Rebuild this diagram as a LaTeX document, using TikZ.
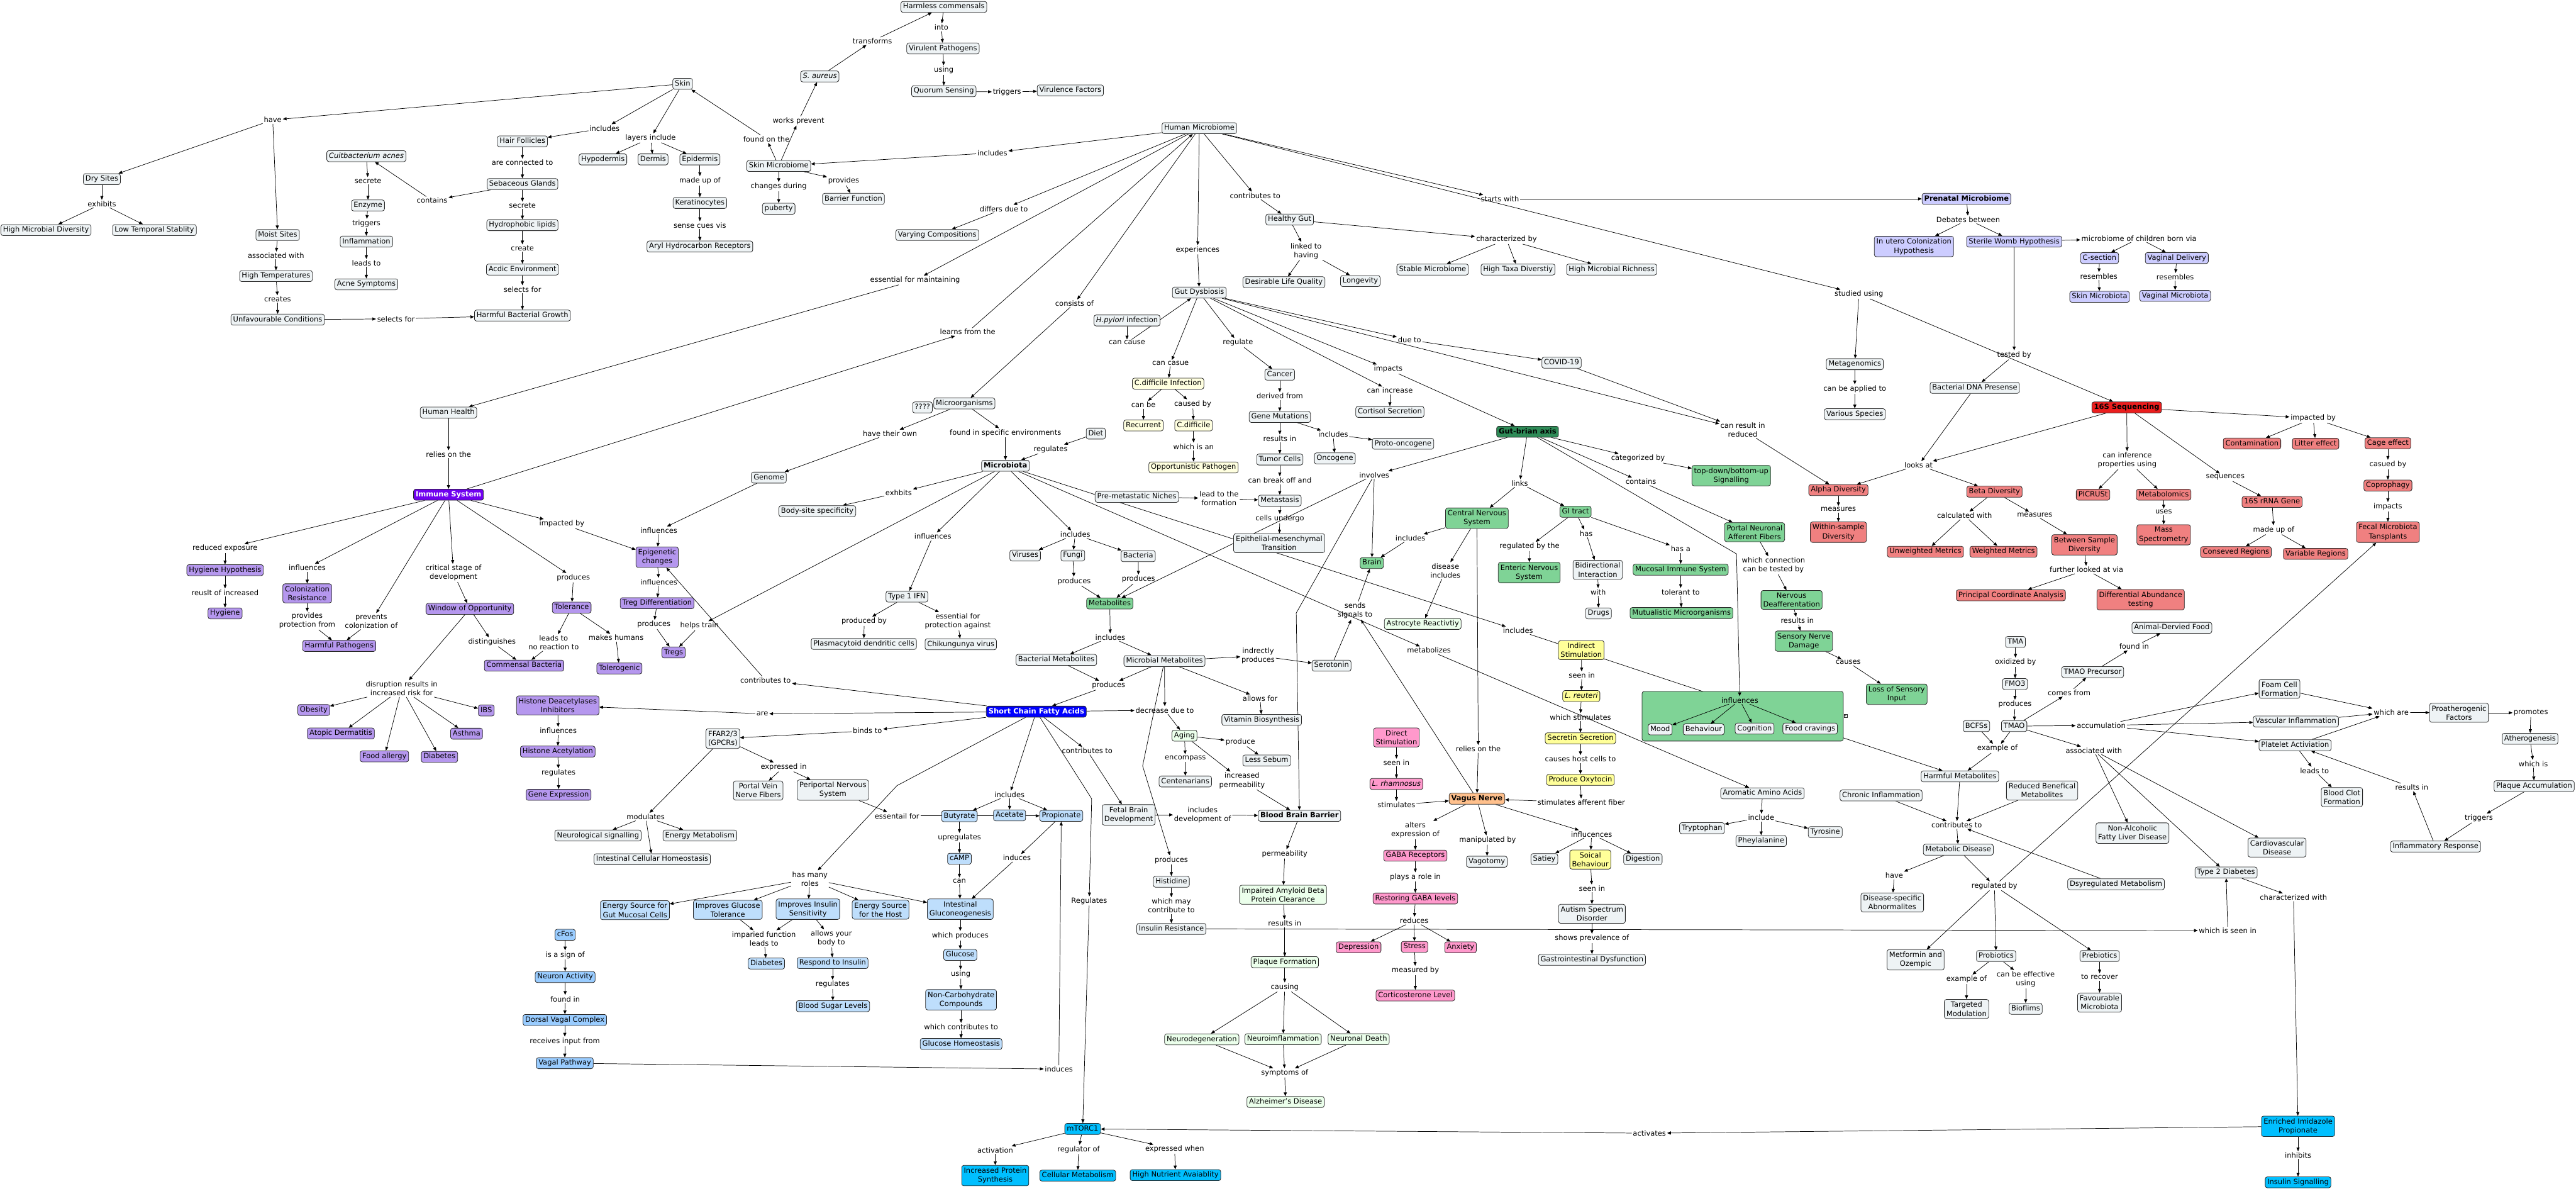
\documentclass[tikz,border=0pt]{standalone}
\usepackage{fontspec}
\setmainfont{DejaVu Sans}
\usetikzlibrary{arrows.meta}
\definecolor{cdef}{RGB}{238,243,245}
\definecolor{cpur}{RGB}{181,151,238}
\definecolor{cimm}{RGB}{112,0,240}
\definecolor{cprn}{RGB}{204,204,255}
\definecolor{cgrn}{RGB}{127,211,150}
\definecolor{cdkg}{RGB}{46,139,87}
\definecolor{clgr}{RGB}{235,255,235}
\definecolor{csal}{RGB}{240,128,128}
\definecolor{cred}{RGB}{235,30,30}
\definecolor{cscfa}{RGB}{0,0,255}
\definecolor{clb}{RGB}{190,222,252}
\definecolor{cfb}{RGB}{153,204,255}
\definecolor{csky}{RGB}{0,191,255}
\definecolor{cyel}{RGB}{255,255,153}
\definecolor{cly}{RGB}{255,255,224}
\definecolor{cpink}{RGB}{255,153,204}
\definecolor{corg}{RGB}{255,192,140}
\newcommand\fs{\fontsize{4.4}{5.4}\selectfont}
\pgfdeclarelayer{back}\pgfdeclarelayer{bg}\pgfdeclarelayer{mid}
\pgfsetlayers{back,bg,mid,main}
\tikzset{
  base/.style={draw=black!85, line width=0.3pt, rounded corners=1.3pt, inner xsep=1.3pt, font=\fs, align=center},
  c/.style={base, fill=cdef, inner ysep=1.1pt, text height=3.4pt, text depth=1.1pt},
  m/.style={base, fill=cdef, inner ysep=1.4pt},
  l/.style={inner sep=0.5pt, font=\fs, align=center},
  ar/.style={-{Triangle[length=2.3pt,width=1.9pt]}, line width=0.28pt},
}
\begin{document}
\begin{tikzpicture}[x=1pt,y=-1pt]
\begin{pgfonlayer}{back}\fill[white] (0,0) rectangle (1568,724.5);\end{pgfonlayer}
\useasboundingbox (0,0) rectangle (1568,724.5);
% ---------------- Skin ----------------
\node[c] (skin) at (415.5,51) {Skin};
\node[l] (have) at (166,73) {have};
\node[c] (dry) at (62,109) {Dry Sites};
\node[l] (exh) at (62,124) {exhibits};
\node[c] (hmd) at (28,140) {High Microbial Diversity};
\node[c] (lts) at (94,140) {Low Temporal Stablity};
\node[c] (moist) at (169,143) {Moist Sites};
\node[l] (assoc) at (168,155.5) {associated with};
\node[c] (htemp) at (168,168) {High Temperatures};
\node[l] (creates) at (169,182) {creates};
\node[c] (unfav) at (169,194.5) {Unfavourable Conditions};
\node[l] (sel1) at (241,194) {selects for};
\node[c] (hbg) at (318,192) {Harmful Bacterial Growth};
\node[c] (cacnes) at (223,95) {\itshape Cuitbacterium acnes};
\node[l] (secr1) at (224,110) {secrete};
\node[c] (enzyme) at (224,125) {Enzyme};
\node[l] (trig1) at (223,136) {triggers};
\node[c] (infl) at (223,147) {Inflammation};
\node[l] (leads1) at (223,160) {leads to};
\node[c] (acne) at (223,173) {Acne Symptoms};
\node[l] (contains1) at (263,122) {contains};
\node[c] (hair) at (318,86) {Hair Follicles};
\node[l] (conn) at (318,99) {are connected to};
\node[c] (seb) at (318,112) {Sebaceous Glands};
\node[l] (secr2) at (318,125) {secrete};
\node[c] (hlip) at (318,137) {Hydrophobic lipids};
\node[l] (create) at (318,151) {create};
\node[c] (acid) at (318,164) {Acdic Environment};
\node[l] (sel2) at (318,176) {selects for};
\node[l] (incl1) at (368,78) {includes};
\node[c] (hypo) at (367,97) {Hypodermis};
\node[l] (layers) at (396,84) {layers include};
\node[c] (dermis) at (397.5,97) {Dermis};
\node[c] (epi) at (426,97) {Epidermis};
\node[l] (madeup1) at (426,110) {made up of};
\node[c] (kera) at (426,123.5) {Keratinocytes};
\node[l] (sense) at (426,137) {sense cues vis};
\node[c] (aryl) at (426,150) {Aryl Hydrocarbon Receptors};
\node[l] (foundon) at (466.5,84.5) {found on the};
\node[l] (works) at (486,73.6) {works prevent};
\node[c] (skinmb) at (474,101) {Skin Microbiome};
\node[l] (changes) at (474,113.6) {changes during};
\node[c] (puberty) at (474,127) {puberty};
\node[l] (provides1) at (513.5,110) {provides};
\node[c] (barrier) at (519.5,121) {Barrier Function};
\node[c] (saureus) at (499,46.5) {\itshape S. aureus};
\node[l] (transforms) at (531,25) {transforms};
\node[c] (harmless) at (574.5,4.2) {Harmless commensals};
\node[l] (into) at (573,16.6) {into};
\node[c] (virulent) at (574,29.5) {Virulent Pathogens};
\node[l] (using1) at (574.5,42.6) {using};
\node[c] (quorum) at (574.5,55.5) {Quorum Sensing};
\node[l] (trig2) at (613,56) {triggers};
\node[c] (virf) at (651.5,55) {Virulence Factors};
% ---------------- Human microbiome ----------------
\node[c] (hm) at (730,78) {Human Microbiome};
\node[l] (incl2) at (604,93) {includes};
\node[l] (differs) at (611,127) {differs due to};
\node[c] (varying) at (570.5,143) {Varying Compositions};
\node[l] (essmaint) at (557,170.5) {essential for maintaining};
\node[l] (learns) at (589,202) {learns from the};
\node[l] (consists) at (654,184.6) {consists of};
\node[l] (exper) at (729,152) {experiences};
\node[l] (contrib1) at (764,119) {contributes to};
\node[c] (healthy) at (785,133.6) {Healthy Gut};
\node[l] (linked) at (795,152.7) {linked to\\having};
\node[c] (desirable) at (781.5,171.7) {Desirable Life Quality};
\node[c] (longevity) at (828,171) {Longevity};
\node[l] (charby) at (917,145.7) {characterized by};
\node[c] (stable) at (872,164) {Stable Microbiome};
\node[c] (htaxa) at (924,164) {High Taxa Diverstiy};
\node[c] (hmr) at (981,164) {High Microbial Richness};
\node[l] (startsw) at (913,121) {starts with};
\node[c,fill=cprn,font=\fs\bfseries] (prenatal) at (1197,121) {Prenatal Microbiome};
\node[l] (debates) at (1198,133.6) {Debates between};
\node[m,fill=cprn] (inutero) at (1165,150) {In utero Colonization\\Hypothesis};
\node[c,fill=cprn] (sterile) at (1226,147) {Sterile Womb Hypothesis};
\node[l] (mcbv) at (1302,145) {microbiome of children born via};
\node[c,fill=cprn] (csec) at (1278,157) {C-section};
\node[c,fill=cprn] (vagdel) at (1325,157) {Vaginal Delivery};
\node[l] (res1) at (1277.5,168) {resembles};
\node[l] (res2) at (1324,168.5) {resembles};
\node[c,fill=cprn] (skinmbt) at (1278,180.6) {Skin Microbiota};
\node[c,fill=cprn] (vagmbt) at (1324,180) {Vaginal Microbiota};
\node[l] (studied) at (1131.5,179) {studied using};
\node[c] (metag) at (1129,221.6) {Metagenomics};
\node[l] (applied) at (1129,236.7) {can be applied to};
\node[c] (various) at (1129,252) {Various Species};
\node[l] (tested) at (1226,216) {tested by};
\node[c] (bdna) at (1202,236) {Bacterial DNA Presense};
\node[c,fill=cred,font=\fs\bfseries] (s16) at (1294.5,247.9) {16S Sequencing};
% ---------------- Gut dysbiosis ----------------
\node[c] (gd) at (730,178) {Gut Dysbiosis};
\node[c] (hpylori) at (686,195) {{\itshape H.pylori} infection};
\node[l] (cancause1) at (686,208.5) {can cause};
\node[l] (cancasue) at (712.5,221) {can casue};
\node[c,fill=cly] (cdiffinf) at (711,233.4) {C.difficile Infection};
\node[l] (canbe) at (696,246.3) {can be};
\node[l] (causedby) at (726,245.8) {caused by};
\node[c,fill=cly] (recurrent) at (696,258.9) {Recurrent};
\node[c,fill=cly] (cdiff) at (726.5,258.9) {C.difficile};
\node[l] (whichisan) at (726.5,271.7) {which is an};
\node[c,fill=cly] (opp) at (726.5,284.4) {Opportunistic Pathogen};
\node[l] (regulate) at (753.5,208.5) {regulate};
\node[c] (cancer) at (779,228) {Cancer};
\node[l] (derived) at (779,241) {derived from};
\node[c] (genemut) at (779,253.7) {Gene Mutations};
\node[l] (resultsin1) at (779,266.8) {results in};
\node[c] (tumor) at (779,279.6) {Tumor Cells};
\node[l] (breakoff) at (779,292.2) {can break off and};
\node[c] (metastasis) at (779,304.6) {Metastasis};
\node[l] (undergo) at (779,315.6) {cells undergo};
\node[m] (emt) at (778.6,330.5) {Epithelial-mesenchymal\\Transition};
\node[l] (incl3) at (811.5,264.3) {includes};
\node[c] (proto) at (854,270) {Proto-oncogene};
\node[c] (onco) at (812.5,278.9) {Oncogene};
\node[l] (dueto) at (858,206.8) {due to};
\node[c] (covid) at (950.5,220.7) {COVID-19};
\node[l] (impacts1) at (845,224.6) {impacts};
\node[l] (canincr) at (846,237.6) {can increase};
\node[c] (cortisol) at (846,250.6) {Cortisol Secretion};
\node[l] (canresult) at (1060.8,261.5) {can result in\\reduced};
\node[c] (premet) at (692,302.3) {Pre-metastatic Niches};
\node[l] (leadform) at (742,303.3) {lead to the\\formation};
% ---------------- Gut-brain axis ----------------
\node[c,fill=cdkg,font=\fs\bfseries] (gba) at (929.8,262.7) {Gut-brian axis};
\node[l] (involves) at (836.5,289) {involves};
\node[l] (links) at (925,294) {links};
\node[l] (catby) at (997,278.9) {categorized by};
\node[m,fill=cgrn] (topdown) at (1053.8,289.4) {top-down/bottom-up\\Signalling};
\node[l] (contains2) at (998.8,293) {contains};
\node[m,fill=cgrn] (cns) at (899,315.3) {Central Nervous\\System};
\node[c,fill=cgrn] (gi) at (959,311.4) {GI tract};
\node[l] (incl4) at (858.5,327.4) {includes};
\node[c,fill=cgrn] (brain) at (835,342.6) {Brain};
\node[l] (disincl) at (879.8,347.2) {disease\\includes};
\node[c,fill=clgr] (astro) at (866,379.6) {Astrocyte Reactivtiy};
\node[l] (regby) at (931,332.5) {regulated by the};
\node[m,fill=cgrn] (ens) at (930.8,348.4) {Enteric Nervous\\System};
\node[l] (has) at (965.5,324.6) {has};
\node[m] (bidir) at (972.5,346.7) {Bidirectional\\Interaction};
\node[l] (with) at (972.8,360.2) {with};
\node[c] (drugs) at (973,373.2) {Drugs};
\node[l] (hasa) at (1023,334) {has a};
\node[c,fill=cgrn] (mucosal) at (1023,346.6) {Mucosal Immune System};
\node[l] (tolerant) at (1023,360.2) {tolerant to};
\node[c,fill=cgrn] (mutual) at (1023.5,373) {Mutualistic Microorganisms};
\node[m,fill=cgrn] (portal) at (1068,323.8) {Portal Neuronal\\Afferent Fibers};
\node[l] (whichconn) at (1079.5,344) {which connection\\can be tested by};
\node[m,fill=cgrn] (deaff) at (1090.5,365) {Nervous\\Deafferentation};
\node[l] (resultsin2) at (1094,377.7) {results in};
\node[m,fill=cgrn] (sensory) at (1098,390.1) {Sensory Nerve\\Damage};
\node[l] (causes) at (1125,403) {causes};
\node[m,fill=cgrn] (loss) at (1154.5,422.4) {Loss of Sensory\\Input};
\node[l] (sends) at (824.8,371.5) {sends\\signals to};
\node[c] (serotonin) at (810.5,405) {Serotonin};
\node[l] (metabolizes) at (869.8,395.7) {metabolizes};
\node[l] (incl5) at (924,383.6) {includes};
\node[m,fill=cyel] (indirect) at (962.5,395.6) {Indirect\\Stimulation};
\node[l] (seenin1) at (962.8,410.9) {seen in};
\node[c,fill=cyel] (lreuteri) at (962.5,423.5) {\itshape L. reuteri};
\node[l] (whichstim) at (962,436.3) {which stimulates};
\node[c,fill=cyel] (secretin) at (962,449.2) {Secretin Secretion};
\node[l] (causeshost) at (962,461.9) {causes host cells to};
\node[c,fill=cyel] (oxytocin) at (962,474.5) {Produce Oxytocin};
\begin{pgfonlayer}{mid}
\draw[fill=cgrn, rounded corners=1.3pt, line width=0.3pt, draw=black!85] (999.5,420.7) rectangle (1122,450.9);
\end{pgfonlayer}
\node[draw=black!85, fill=white, line width=0.2pt, inner sep=0.2pt, font=\fontsize{2.6}{3}\selectfont] (collapse) at (1123.3,435.6) {«};
\node[l] (influ1) at (1059,426) {influences};
\node[c] (mood) at (1010.5,443.8) {Mood};
\node[c] (behav) at (1037,443.8) {Behaviour};
\node[c] (cogn) at (1068,443.3) {Cognition};
\node[c] (food) at (1101.8,443.3) {Food cravings};
\node[m,fill=cpink] (direct) at (850,448.7) {Direct\\Stimulation};
\node[l] (seenin2) at (850,464) {seen in};
\node[c,fill=cpink] (lrham) at (850,477) {\itshape L. rhamnosus};
\node[l] (relies2) at (899.8,455.7) {relies on the};
\node[c,fill=corg,font=\fs\bfseries] (vagus) at (899,486) {Vagus Nerve};
\node[c] (aaa) at (1072.8,482.7) {Aromatic Amino Acids};
\node[c] (chronic) at (1145,484) {Chronic Inflammation};
% ---------------- 16S ----------------
\node[c,fill=csal] (alpha) at (1119,298.2) {Alpha Diversity};
\node[l] (measures1) at (1119,309.9) {measures};
\node[m,fill=csal] (within) at (1119,323.8) {Within-sample\\Diversity};
\node[c,fill=csal] (unweighted) at (1172,335.7) {Unweighted Metrics};
\node[l] (looksat) at (1167.8,283) {looks at};
\node[c,fill=csal] (beta) at (1214,299.2) {Beta Diversity};
\node[l] (calcwith) at (1195.8,313.7) {calculated with};
\node[l] (measures2) at (1238.5,313.3) {measures};
\node[c,fill=csal] (weighted) at (1219.5,335.7) {Weighted Metrics};
\node[m,fill=csal] (between) at (1268.8,331.5) {Between Sample\\Diversity};
\node[l] (further) at (1270,346.7) {further looked at via};
\node[c,fill=csal] (pcoa) at (1224,362.2) {Principal Coordinate Analysis};
\node[m,fill=csal] (daa) at (1303,364.9) {Differential Abundance\\testing};
\node[l] (caninf) at (1294.8,280) {can inference\\properties using};
\node[c,fill=csal] (picrust) at (1274,301) {PICRUSt};
\node[c,fill=csal] (metabolomics) at (1317,301) {Metabolomics};
\node[l] (uses) at (1317,311.4) {uses};
\node[m,fill=csal] (mass) at (1317,325.4) {Mass\\Spectrometry};
\node[l] (sequences) at (1354.5,290.5) {sequences};
\node[c,fill=csal] (rrna) at (1383,305.4) {16S rRNA Gene};
\node[l] (madeup2) at (1384,322.4) {made up of};
\node[c,fill=csal] (conserved) at (1361,335.9) {Conseved Regions};
\node[c,fill=csal] (variable) at (1409.5,337) {Variable Regions};
\node[l] (impby) at (1408,254.5) {impacted by};
\node[c,fill=csal] (contam) at (1370.8,269.9) {Contamination};
\node[c,fill=csal] (litter) at (1409.5,270) {Litter effect};
\node[c,fill=csal] (cage) at (1453.5,269.7) {Cage effect};
\node[l] (casued) at (1453.5,282.6) {casued by};
\node[c,fill=csal] (copro) at (1453.5,295.4) {Coprophagy};
\node[l] (impacts2) at (1453.5,308.3) {impacts};
\node[m,fill=csal] (fmt) at (1453.5,323.8) {Fecal Microbiota\\Tansplants};
% ---------------- TMAO / metabolic ----------------
\node[c] (animal) at (1322,382) {Animal-Dervied Food};
\node[l] (foundin1) at (1299,393.4) {found in};
\node[c] (tma) at (1226.8,390.6) {TMA};
\node[l] (oxid) at (1226.8,403) {oxidized by};
\node[c] (fmo3) at (1226.5,416.2) {FMO3};
\node[l] (produces5) at (1226.5,428.6) {produces};
\node[c] (tmaoprec) at (1273.8,408.9) {TMAO Precursor};
\node[l] (comesfrom) at (1259.5,421.5) {comes from};
\node[c] (tmao) at (1226,441.8) {TMAO};
\node[c] (bcfss) at (1203,441.8) {BCFSs};
\node[l] (exof1) at (1215.8,455.4) {example of};
\node[c] (harmmet) at (1193,472.4) {Harmful Metabolites};
\node[l] (accum) at (1279,441.4) {accumulation};
\node[l] (assocw) at (1274.5,456.6) {associated with};
\node[m] (foam) at (1387.5,419.1) {Foam Cell\\Formation};
\node[c] (vascinf) at (1397.5,439) {Vascular Inflammation};
\node[c] (platelet) at (1397,453.4) {Platelet Activiation};
\node[l] (whichare) at (1455.5,433.4) {which are};
\node[m] (proath) at (1496.8,433.7) {Proatherogenic\\Factors};
\node[l] (promotes) at (1540.5,433.7) {promotes};
\node[c] (athero) at (1540,449.5) {Atherogenesis};
\node[l] (whichis) at (1542,464.7) {which is};
\node[c] (plaqueacc) at (1542.5,478.3) {Plaque Accumulation};
\node[l] (triggers3) at (1508.8,497.8) {triggers};
\node[c] (inflresp) at (1482.5,515.1) {Inflammatory Response};
\node[l] (leadsto3) at (1408.8,468.9) {leads to};
\node[m] (bloodclot) at (1425.5,485) {Blood Clot\\Formation};
\node[l] (resultsin3) at (1468,479) {results in};
\node[m] (reducedben) at (1243,481) {Reduced Benefical\\Metabolites};
\node[l] (contrib2) at (1191,502) {contributes to};
\node[c] (metdis) at (1192,517) {Metabolic Disease};
\node[l] (have2) at (1153,532.7) {have};
\node[m] (disspec) at (1151.8,549.1) {Disease-specific\\Abnormalites};
\node[l] (regby2) at (1214,539) {regulated by};
\node[m] (nafld) at (1298,506.9) {Non-Alcoholic\\Fatty Liver Disease};
\node[m] (cvd) at (1386,515.7) {Cardiovascular\\Disease};
\node[c] (t2d) at (1355,530.9) {Type 2 Diabetes};
\node[l] (charwith) at (1396,545.9) {characterized with};
\node[l] (whichseen) at (1356,566.2) {which is seen in};
\node[c] (dysreg) at (1288,538) {Dsyregulated Metabolism};
\node[c] (probiotics) at (1215,581.7) {Probiotics};
\node[l] (exof2) at (1197,595.8) {example of};
\node[m] (targeted) at (1197,613.9) {Targeted\\Modulation};
\node[l] (caneff) at (1233,595.8) {can be effective\\using};
\node[c] (bioflims) at (1233,613.8) {Bioflims};
\node[c] (prebiotics) at (1278,581.7) {Prebiotics};
\node[l] (torecover) at (1278,594.5) {to recover};
\node[m] (favourable) at (1278,610) {Favourable\\Microbiota};
\node[m] (metformin) at (1166,584) {Metformin and\\Ozempic};
\node[m,fill=csky] (eip) at (1398.8,685.3) {Enriched Imidazole\\Propionate};
\node[l] (inhibits) at (1398.8,702.9) {inhibits};
\node[c,fill=csky] (insulinsig) at (1398.8,719.4) {Insulin Signalling};
% ---------------- Immune ----------------
\node[c] (hhealth) at (273,251) {Human Health};
\node[l] (relies1) at (273,276.4) {relies on the};
\node[c,fill=cimm,text=white,font=\fs\bfseries] (immune) at (273,301) {Immune System};
\node[l] (redexp) at (137,333.7) {reduced exposure};
\node[c,fill=cpur] (hyghyp) at (137,346.9) {Hygiene Hypothesis};
\node[l] (reuslt) at (137,360.5) {reuslt of increased};
\node[c,fill=cpur] (hygiene) at (137,373.2) {Hygiene};
\node[l] (influ2) at (187,345.5) {influences};
\node[m,fill=cpur] (colres) at (187,361) {Colonization\\Resistance};
\node[l] (protfrom) at (187,377.7) {provides\\protection from};
\node[l] (prevents) at (226,378) {prevents\\colonization of};
\node[c,fill=cpur] (harmpath) at (206.5,393) {Harmful Pathogens};
\node[l] (critical) at (276,348.6) {critical stage of\\development};
\node[c,fill=cpur] (window) at (286,370.5) {Window of Opportunity};
\node[l] (disting) at (299.5,390.6) {distinguishes};
\node[c,fill=cpur] (commensal) at (319,405) {Commensal Bacteria};
\node[l] (produces1) at (349,351.5) {produces};
\node[c,fill=cpur] (tolerance) at (348,369.7) {Tolerance};
\node[l] (leadsno) at (337,391) {leads to\\no reaction to};
\node[l] (makes) at (375,388) {makes humans};
\node[c,fill=cpur] (tolerogenic) at (377,406.7) {Tolerogenic};
\node[l] (impby2) at (342,318.7) {impacted by};
\node[m,fill=cpur] (epig) at (400,339) {Epigenetic\\changes};
\node[l] (influ3) at (401,322.7) {influences};
\node[l] (influ4) at (401,354) {influences};
\node[c,fill=cpur] (tregdiff) at (400,367) {Treg Differentiation};
\node[l] (produces2) at (398,380) {produces};
\node[l] (helps) at (425.8,380.8) {helps train};
\node[c,fill=cpur] (tregs) at (410,397) {Tregs};
\node[l] (disrupt) at (244.5,419) {disruption results in\\increased risk for};
\node[c,fill=cpur] (obesity) at (191,432) {Obesity};
\node[c,fill=cpur] (atopic) at (207.5,446.3) {Atopic Dermatitis};
\node[c,fill=cpur] (foodall) at (234,460.2) {Food allergy};
\node[c,fill=cpur] (diabetes1) at (267.5,460.5) {Diabetes};
\node[c,fill=cpur] (asthma) at (284,446.4) {Asthma};
\node[c,fill=cpur] (ibs) at (296,432.3) {IBS};
\node[m,fill=cpur] (hdi) at (339.5,429.2) {Histone Deacetylases\\Inhibitors};
\node[l] (influ5) at (339.8,444.7) {influences};
\node[c,fill=cpur] (hacet) at (339.5,457.3) {Histone Acetylation};
\node[l] (regulates1) at (340,470.4) {regulates};
\node[c,fill=cpur] (geneexp) at (340,483.6) {Gene Expression};
% ---------------- Microbiota ----------------
\node[c] (microorg) at (587,245.5) {Microorganisms};
\node[c] (qqqq) at (561.5,247.9) {????};
\node[l] (havetheir) at (541.7,263.8) {have their own};
\node[l] (foundspec) at (612,263.4) {found in specific environments};
\node[c] (diet) at (667,263.8) {Diet};
\node[l] (regulates2) at (639.5,273.3) {regulates};
\node[c,font=\fs\bfseries] (microbiota) at (612,283.4) {Microbiota};
\node[l] (exhbits) at (547,299.8) {exhbits};
\node[c] (bodysite) at (497.5,311) {Body-site specificity};
\node[c] (genome) at (468,290.6) {Genome};
\node[l] (influ6) at (567.8,326.4) {influences};
\node[c] (type1) at (552,363) {Type 1 IFN};
\node[l] (prodby) at (526,378) {produced by};
\node[l] (essprot) at (583,378) {essential for\\protection against};
\node[c] (plasma) at (525.8,391.8) {Plasmacytoid dendritic cells};
\node[c] (chik) at (584.8,392) {Chikungunya virus};
\node[l] (incl6) at (654.5,325.2) {includes};
\node[c] (viruses) at (624,338) {Viruses};
\node[c] (fungi) at (653,338) {Fungi};
\node[c] (bacteria) at (692.8,338.4) {Bacteria};
\node[l] (produces3) at (653.8,353.7) {produces};
\node[l] (produces4) at (693,352.5) {produces};
\node[c,fill=cgrn] (metabolites) at (675.5,367.2) {Metabolites};
\node[l] (incl7) at (675.8,387.7) {includes};
\node[c] (bactmet) at (643,401.5) {Bacterial Metabolites};
\node[c] (micmet) at (708.8,402.2) {Microbial Metabolites};
\node[l] (produces6) at (674.8,417) {produces};
\node[l] (indrect) at (765.8,399) {indrectly\\produces};
\node[l] (allows) at (767,424.9) {allows for};
\node[c] (vitamin) at (768,438) {Vitamin Biosynthesis};
% ---------------- SCFA ----------------
\node[l] (contrib3) at (466,413.9) {contributes to};
\node[c,fill=cscfa,text=white,font=\fs\bfseries] (scfa) at (630.8,433) {Short Chain Fatty Acids};
\node[l] (are) at (464,434.3) {are};
\node[l] (decrease) at (709,432.1) {decrease due to};
\node[l] (bindsto) at (528,444.7) {binds to};
\node[m] (ffar) at (440,449.4) {FFAR2/3\\(GPCRs)};
\node[l] (exprin) at (477,466.7) {expressed in};
\node[m] (portalvein) at (461.5,481) {Portal Vein\\Nerve Fibers};
\node[m] (periportal) at (507,480.7) {Periportal Nervous\\System};
\node[l] (contrib4) at (661.8,456.8) {contributes to};
\node[l] (incl8) at (614.5,483.5) {includes};
\node[c,fill=clgr] (aging) at (721,447.6) {Aging};
\node[l] (produce7) at (755,451.4) {produce};
\node[c] (lesssebum) at (771,462.7) {Less Sebum};
\node[l] (encompass) at (721.5,461.3) {encompass};
\node[c] (centen) at (721.5,475.5) {Centenarians};
\node[l] (incperm) at (756,475) {increased\\permeability};
\node[l] (modulates) at (393,497) {modulates};
\node[c] (neurosig) at (364,508.4) {Neurological signalling};
\node[c] (energymet) at (426,508.4) {Energy Metabolism};
\node[c] (intcell) at (397,522.8) {Intestinal Cellular Homeostasis};
\node[l] (essfor) at (546,496.4) {essentail for};
\node[c,fill=clb] (butyrate) at (584,496.6) {Butyrate};
\node[c,fill=clb] (acetate) at (614.5,496.1) {Acetate};
\node[c,fill=clb] (propionate) at (646,496.4) {Propionate};
\node[l] (upreg) at (584,509.6) {upregulates};
\node[c,fill=clb] (camp) at (584,522.5) {cAMP};
\node[l] (can) at (584,535.9) {can};
\node[l] (induces1) at (619,522) {induces};
\node[l] (manyroles) at (493,534.7) {has many\\roles};
\node[m,fill=clb] (esgut) at (386.5,553.8) {Energy Source for\\Gut Mucosal Cells};
\node[m,fill=clb] (igt) at (443,553.6) {Improves Glucose\\Tolerance};
\node[m,fill=clb] (iis) at (491.8,553.2) {Improves Insulin\\Sensitivity};
\node[m,fill=clb] (eshost) at (536,553.5) {Energy Source\\for the Host};
\node[m,fill=clb] (ig) at (584.5,553.2) {Intestinal\\Gluconeogenesis};
\node[l] (impaired) at (465,571.1) {imparied function\\leads to};
\node[l] (allowsbody) at (506,571) {allows your\\body to};
\node[c,fill=clb] (diabetes2) at (466.5,586.3) {Diabetes};
\node[c,fill=clb] (respond) at (506.8,586) {Respond to Insulin};
\node[l] (regulates3) at (506.8,599) {regulates};
\node[c,fill=clb] (bloodsugar) at (507,612.2) {Blood Sugar Levels};
\node[l] (whichprod) at (584.5,569.3) {which produces};
\node[c,fill=clb] (glucose) at (584.5,581) {Glucose};
\node[l] (using2) at (584.8,592.7) {using};
\node[m,fill=clb] (noncarb) at (585,608.3) {Non-Carbohydrate\\Compounds};
\node[l] (whichcontr) at (585,624.8) {which contributes to};
\node[c,fill=clb] (glucohom) at (585,635.2) {Glucose Homeostasis};
\node[l] (induces2) at (644.5,650.5) {induces};
\node[l] (regulates4) at (663,548.2) {Regulates};
\node[c,fill=csky] (mtorc) at (659,686.9) {mTORC1};
\node[l] (activation) at (605.8,699.7) {activation};
\node[l] (regof) at (656.5,699.4) {regulator of};
\node[l] (exprwhen) at (715,699.2) {expressed when};
\node[m,fill=csky] (incprot) at (605.8,715.3) {Increased Protein\\Synthesis};
\node[c,fill=csky] (cellmet) at (656,715.3) {Cellular Metabolism};
\node[c,fill=csky] (highnut) at (715.5,715) {High Nutrient Avaiablity};
\node[m] (fetal) at (687,495.8) {Fetal Brain\\Development};
\node[l] (incldev) at (732,495.8) {includes\\development of};
\node[c,font=\fs\bfseries] (bbb) at (791,496.4) {Blood Brain Barrier};
\node[l] (produces8) at (713,523.3) {produces};
\node[c] (histidine) at (713,536.5) {Histidine};
\node[l] (whichmay) at (713,551) {which may\\contribute to};
\node[c] (insres) at (713,565.2) {Insulin Resistance};
\node[l] (permeab) at (782,519.6) {permeability};
\node[m,fill=clgr] (impamy) at (781,544.4) {Impaired Amyloid Beta\\Protein Clearance};
\node[l] (resultsin4) at (782,561.8) {results in};
\node[c,fill=clgr] (plaqueform) at (782,585.4) {Plaque Formation};
\node[l] (causing) at (782,600.6) {causing};
\node[c,fill=clgr] (neurodeg) at (731.5,632.4) {Neurodegeneration};
\node[c,fill=clgr] (neuroinf) at (781,632.3) {Neuroimflammation};
\node[c,fill=clgr] (neurodeath) at (827,632.3) {Neuronal Death};
\node[l] (symptoms) at (782,652.8) {symptoms of};
\node[c,fill=clgr] (alz) at (782.5,670.5) {Alzheimer's Disease};
% ---------------- Vagus ----------------
\node[l] (stimulates1) at (850,489.7) {stimulates};
\node[l] (stimaff) at (962.5,488.2) {stimulates afferent fiber};
\node[l] (alters) at (861.5,505) {alters\\expression of};
\node[c,fill=cpink] (gabar) at (861.5,520.6) {GABA Receptors};
\node[l] (plays) at (861.5,533.6) {plays a role in};
\node[c,fill=cpink] (restoring) at (861.5,546.7) {Restoring GABA levels};
\node[l] (reduces) at (860.8,560.2) {reduces};
\node[c,fill=cpink] (depression) at (827,576.4) {Depression};
\node[c,fill=cpink] (stress) at (861,576.1) {Stress};
\node[c,fill=cpink] (anxiety) at (889,576.4) {Anxiety};
\node[l] (measby) at (861.5,590.5) {measured by};
\node[c,fill=cpink] (cortico) at (861.5,605.7) {Corticosterone Level};
\node[l] (manip) at (905.5,511.1) {manipulated by};
\node[c] (vagotomy) at (905,524.3) {Vagotomy};
\node[l] (influc) at (968.8,507.5) {influcences};
\node[c] (satiey) at (940,522.7) {Satiey};
\node[m,fill=cyel] (social) at (968,523) {Soical\\Behaviour};
\node[c] (digestion) at (1000,522.7) {Digestion};
\node[l] (seenin3) at (969,540.6) {seen in};
\node[m] (autism) at (969,556) {Autism Spectrum\\Disorder};
\node[l] (showsprev) at (969,571) {shows prevalence of};
\node[c] (gidys) at (969,584) {Gastrointestinal Dysfunction};
\node[l] (include) at (1072,497.5) {include};
\node[c] (tryp) at (1036,503.9) {Tryptophan};
\node[c] (phe) at (1072,511.7) {Pheylalanine};
\node[c] (tyr) at (1111,506.3) {Tyrosine};
\node[l] (activates) at (1004,689.5) {activates};
\node[c,fill=cfb] (cfos) at (344,568.8) {cFos};
\node[l] (isasign) at (344,581.1) {is a sign of};
\node[c,fill=cfb] (neuronact) at (344,594.5) {Neuron Activity};
\node[l] (foundin2) at (344,607.8) {found in};
\node[c,fill=cfb] (dvc) at (343.8,620.6) {Dorsal Vagal Complex};
\node[l] (receives) at (343.8,633.6) {receives input from};
\node[c,fill=cfb] (vagalpath) at (343.8,646.9) {Vagal Pathway};
% ---------------- edges ----------------
\begin{pgfonlayer}{bg}
\foreach \s/\t in {skin/have, have/dry, have/moist, dry/exh, exh/hmd, exh/lts, moist/assoc, assoc/htemp, htemp/creates, creates/unfav, unfav/sel1, sel1/hbg,
 cacnes/secr1, secr1/enzyme, enzyme/trig1, trig1/infl, infl/leads1, leads1/acne, seb/contains1, contains1/cacnes,
 skin/incl1, incl1/hair, hair/conn, conn/seb, seb/secr2, secr2/hlip, hlip/create, create/acid, acid/sel2, sel2/hbg,
 skin/layers, layers/hypo, layers/dermis, layers/epi, epi/madeup1, madeup1/kera, kera/sense, sense/aryl,
 skinmb/foundon, foundon/skin, skinmb/works, works/saureus, saureus/transforms, transforms/harmless, harmless/into, into/virulent, virulent/using1, using1/quorum, quorum/trig2, trig2/virf,
 skinmb/changes, changes/puberty, skinmb/provides1, provides1/barrier,
 hm/incl2, incl2/skinmb, hm/differs, differs/varying, hm/essmaint, essmaint/hhealth, immune/learns, learns/hm, hm/consists, consists/microorg,
 hm/exper, exper/gd, hm/contrib1, contrib1/healthy, hm/startsw, startsw/prenatal, hm/studied, studied/metag, studied/s16, metag/applied, applied/various,
 healthy/linked, linked/desirable, linked/longevity, healthy/charby, charby/stable, charby/htaxa, charby/hmr,
 prenatal/debates, debates/inutero, debates/sterile, sterile/mcbv, mcbv/csec, mcbv/vagdel, csec/res1, res1/skinmbt, vagdel/res2, res2/vagmbt,
 sterile/tested, tested/bdna, bdna/looksat, s16/looksat, looksat/alpha, looksat/beta, alpha/measures1, measures1/within,
 beta/calcwith, calcwith/unweighted, calcwith/weighted, beta/measures2, measures2/between, between/further, further/pcoa, further/daa,
 s16/caninf, caninf/picrust, caninf/metabolomics, metabolomics/uses, uses/mass, s16/sequences, sequences/rrna, rrna/madeup2, madeup2/conserved, madeup2/variable,
 s16/impby, impby/contam, impby/litter, impby/cage, cage/casued, casued/copro, copro/impacts2, impacts2/fmt,
 hpylori/cancause1, cancause1/gd, gd/cancasue, cancasue/cdiffinf, cdiffinf/canbe, canbe/recurrent, cdiffinf/causedby, causedby/cdiff, cdiff/whichisan, whichisan/opp,
 gd/regulate, regulate/cancer, cancer/derived, derived/genemut, genemut/resultsin1, resultsin1/tumor, tumor/breakoff, breakoff/metastasis, metastasis/undergo, undergo/emt,
 genemut/incl3, incl3/proto, incl3/onco, premet/leadform, leadform/metastasis,
 gd/dueto, dueto/covid, covid/canresult, gd/canresult, canresult/alpha, gd/impacts1, impacts1/gba, gd/canincr, canincr/cortisol,
 gba/involves, involves/brain, involves/metabolites, gba/links, links/cns, links/gi, gba/catby, catby/topdown, gba/contains2, contains2/portal,
 cns/incl4, incl4/brain, cns/disincl, disincl/astro, cns/relies2, relies2/vagus,
 gi/regby, regby/ens, gi/has, has/bidir, bidir/with, with/drugs, gi/hasa, hasa/mucosal, mucosal/tolerant, tolerant/mutual,
 portal/whichconn, whichconn/deaff, deaff/resultsin2, resultsin2/sensory, sensory/causes, causes/loss,
 serotonin/sends, vagus/sends, sends/brain, microbiota/metabolizes, metabolizes/aaa, aaa/include, include/tryp, include/phe, include/tyr,
 microbiota/incl5, incl5/harmmet,
 vagus/alters, alters/gabar, gabar/plays, plays/restoring, restoring/reduces, reduces/depression, reduces/stress, reduces/anxiety, stress/measby, measby/cortico,
 vagus/manip, manip/vagotomy, vagus/influc, influc/satiey, influc/social, influc/digestion, social/seenin3, seenin3/autism, autism/showsprev, showsprev/gidys,
 direct/seenin2, seenin2/lrham, lrham/stimulates1, stimulates1/vagus,
 indirect/seenin1, seenin1/lreuteri, lreuteri/whichstim, whichstim/secretin, secretin/causeshost, causeshost/oxytocin, oxytocin/stimaff, stimaff/vagus,
 hhealth/relies1, relies1/immune, immune/redexp, redexp/hyghyp, hyghyp/reuslt, reuslt/hygiene, immune/influ2, influ2/colres, colres/protfrom, protfrom/harmpath,
 immune/prevents, prevents/harmpath, immune/critical, critical/window, window/disting, disting/commensal, window/disrupt,
 disrupt/obesity, disrupt/atopic, disrupt/foodall, disrupt/diabetes1, disrupt/asthma, disrupt/ibs,
 immune/produces1, produces1/tolerance, tolerance/leadsno, leadsno/commensal, tolerance/makes, makes/tolerogenic,
 immune/impby2, impby2/epig, epig/influ4, influ4/tregdiff, tregdiff/produces2, produces2/tregs, helps/tregs, microbiota/helps,
 genome/influ3, influ3/epig, scfa/contrib3, contrib3/epig, scfa/are, are/hdi, hdi/influ5, influ5/hacet, hacet/regulates1, regulates1/geneexp,
 microorg/havetheir, havetheir/genome, microorg/foundspec, foundspec/microbiota, diet/regulates2, regulates2/microbiota,
 microbiota/exhbits, exhbits/bodysite, microbiota/influ6, influ6/type1, type1/prodby, prodby/plasma, type1/essprot, essprot/chik,
 microbiota/incl6, incl6/viruses, incl6/fungi, incl6/bacteria, fungi/produces3, produces3/metabolites, bacteria/produces4, produces4/metabolites,
 metabolites/incl7, incl7/bactmet, incl7/micmet, bactmet/produces6, micmet/produces6, produces6/scfa, micmet/indrect, indrect/serotonin,
 micmet/allows, allows/vitamin, micmet/decrease, scfa/decrease, decrease/aging,
 produces8/histidine, histidine/whichmay, whichmay/insres, insres/whichseen, whichseen/t2d,
 scfa/bindsto, bindsto/ffar, ffar/exprin, exprin/portalvein, exprin/periportal, ffar/modulates, modulates/neurosig, modulates/energymet, modulates/intcell,
 periportal/essfor, essfor/propionate, scfa/incl8, incl8/butyrate, incl8/acetate, incl8/propionate,
 butyrate/upreg, upreg/camp, camp/can, can/ig, propionate/induces1, induces1/ig,
 manyroles/esgut, manyroles/igt, manyroles/iis, manyroles/eshost, manyroles/ig, igt/impaired, iis/impaired, impaired/diabetes2,
 iis/allowsbody, allowsbody/respond, respond/regulates3, regulates3/bloodsugar,
 ig/whichprod, whichprod/glucose, glucose/using2, using2/noncarb, noncarb/whichcontr, whichcontr/glucohom,
 vagalpath/induces2, induces2/propionate, regulates4/mtorc, mtorc/activation, activation/incprot, mtorc/regof, regof/cellmet, mtorc/exprwhen, exprwhen/highnut,
 scfa/contrib4, contrib4/fetal, fetal/incldev, incldev/bbb, aging/produce7, produce7/lesssebum, aging/encompass, encompass/centen, aging/incperm, incperm/bbb,
 bbb/permeab, permeab/impamy, impamy/resultsin4, resultsin4/plaqueform, plaqueform/causing, causing/neurodeg, causing/neuroinf, causing/neurodeath,
 neurodeg/symptoms, neuroinf/symptoms, neurodeath/symptoms, symptoms/alz,
 cfos/isasign, isasign/neuronact, neuronact/foundin2, foundin2/dvc, dvc/receives, receives/vagalpath,
 tma/oxid, oxid/fmo3, fmo3/produces5, produces5/tmao, tmao/comesfrom, comesfrom/tmaoprec, tmaoprec/foundin1, foundin1/animal,
 tmao/exof1, bcfss/exof1, exof1/harmmet, tmao/accum, accum/foam, accum/vascinf, accum/platelet, foam/whichare, vascinf/whichare, platelet/whichare,
 whichare/proath, proath/promotes, promotes/athero, athero/whichis, whichis/plaqueacc, plaqueacc/triggers3, triggers3/inflresp, inflresp/resultsin3, resultsin3/platelet,
 platelet/leadsto3, leadsto3/bloodclot, tmao/assocw, assocw/nafld, assocw/t2d, assocw/cvd,
 harmmet/contrib2, chronic/contrib2, reducedben/contrib2, dysreg/contrib2, contrib2/metdis, metdis/have2, have2/disspec,
 metdis/regby2, regby2/metformin, regby2/probiotics, regby2/prebiotics, regby2/fmt,
 probiotics/exof2, exof2/targeted, probiotics/caneff, caneff/bioflims, prebiotics/torecover, torecover/favourable,
 t2d/charwith, charwith/eip, eip/inhibits, inhibits/insulinsig, eip/activates, activates/mtorc}
 {\draw[ar] (\s) -- (\t);}
\draw[ar] (involves) -- (789,373) -- (bbb);
\draw[ar] (micmet) -- (695.5,466) -- (produces8);
\draw[ar] (scfa) -- (664.5,486) -- (regulates4);
\draw[ar] (scfa) -- (546,478) -- (manyroles);
\end{pgfonlayer}
\draw[ar] (gba) -- (1057,337) -- (influ1);
\foreach \t in {mood, behav, cogn, food} {\draw[ar] (influ1) -- (\t);}
\end{tikzpicture}
\end{document}
